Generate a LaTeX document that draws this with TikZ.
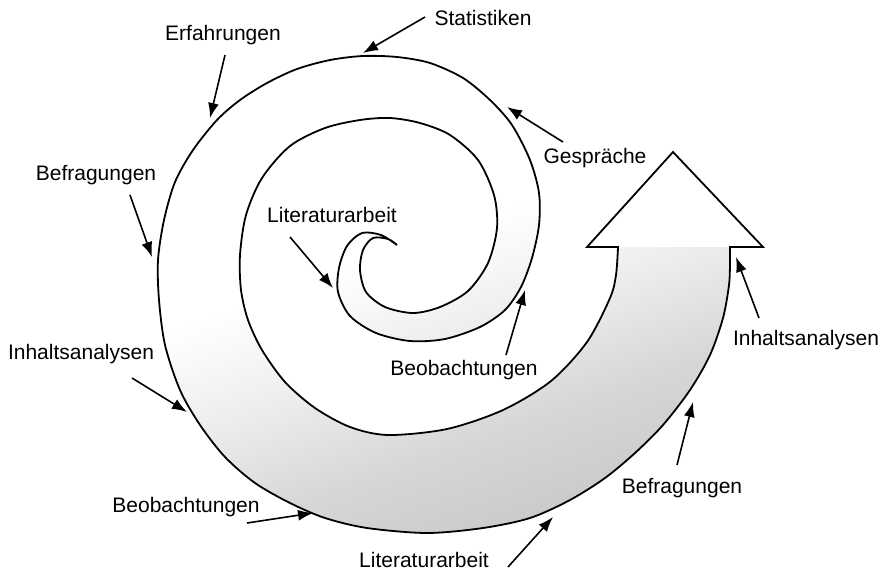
\documentclass[tikz,border=0pt]{standalone}
\usepackage{fontspec}
\setmainfont{Liberation Sans}
\usetikzlibrary{arrows.meta}

% gray tone of the widening band, fading out toward the top
\colorlet{bandDark}{gray!42}
\colorlet{bandMid}{gray!32}
\colorlet{bandLight}{gray!15}
\colorlet{bandFaint}{gray!5}
\pgfdeclareverticalshading{bandfade}{100bp}{%
  color(0bp)=(bandDark); color(25bp)=(bandDark); color(35bp)=(bandMid);
  color(45bp)=(bandLight); color(52bp)=(bandFaint); color(56bp)=(white);
  color(100bp)=(white)}

\begin{document}
\begin{tikzpicture}[x=1pt,y=-1pt,
  lbl/.style={anchor=base, inner sep=0pt, font=\fontsize{21}{25}\selectfont},
  pointer/.style={line width=1.6pt, -{Latex[length=15pt,width=11pt]}},
  outline/.style={line width=1.8pt, line join=miter}]
\useasboundingbox (0,0) rectangle (890,573);

% shaded band of the spiral (between outer and inner line)
\shade[shading=bandfade, shading angle=20]
  plot[smooth] coordinates {(397,245) (381,235) (362,233) (347,246) (339,268) (338,292) (350,316) (376,333) (410,341) (445,339) (480,327) (505,310) (521,287) (532,258) (539,225) (539,193) (530,160) (512,125) (490,100) (463,78) (430,63) (397,57) (363,56) (330,60) (297,69) (267,83) (240,100) (217,120) (193,150) (175,182) (164,220) (158,260) (159,300) (165,345) (180,390) (200,425) (225,457) (255,483) (290,503) (325,518) (367,528) (427,533) (483,528) (530,518) (570,500) (605,478) (635,453) (663,425) (690,390) (710,355) (723,318) (729,285) (730,262) (730,247)}
  -- plot[smooth] coordinates {(618,247) (616,275) (610,298) (587,342) (551,381) (503,410) (447,429) (388,435) (350,427) (315,408) (285,382) (262,350) (248,320) (241,290) (240,255) (246,215) (262,178) (290,146) (325,128) (360,120) (390,118) (420,123) (450,135) (478,160) (494,195) (497,228) (488,263) (468,291) (440,307) (413,313) (385,307) (366,292) (360,270) (363,250) (373,238) (388,239) (397,245)}
  -- cycle;

% outline: outer line, arrow head, inner line back to the centre
\draw[outline]
  plot[smooth] coordinates {(397,245) (381,235) (362,233) (347,246) (339,268) (338,292) (350,316) (376,333) (410,341) (445,339) (480,327) (505,310) (521,287) (532,258) (539,225) (539,193) (530,160) (512,125) (490,100) (463,78) (430,63) (397,57) (363,56) (330,60) (297,69) (267,83) (240,100) (217,120) (193,150) (175,182) (164,220) (158,260) (159,300) (165,345) (180,390) (200,425) (225,457) (255,483) (290,503) (325,518) (367,528) (427,533) (483,528) (530,518) (570,500) (605,478) (635,453) (663,425) (690,390) (710,355) (723,318) (729,285) (730,262) (730,247)}
  -- (763,247) -- (673,152) -- (587,247)
  -- plot[smooth] coordinates {(618,247) (616,275) (610,298) (587,342) (551,381) (503,410) (447,429) (388,435) (350,427) (315,408) (285,382) (262,350) (248,320) (241,290) (240,255) (246,215) (262,178) (290,146) (325,128) (360,120) (390,118) (420,123) (450,135) (478,160) (494,195) (497,228) (488,263) (468,291) (440,307) (413,313) (385,307) (366,292) (360,270) (363,250) (373,238) (388,239) (397,245)};

% labels
\node[lbl] (statistiken) at (483,25) {Statistiken};
\node[lbl] (erfahrungen) at (223,40) {Erfahrungen};
\node[lbl] (befragungenL) at (96,180) {Befragungen};
\node[lbl] (gespraeche) at (595,163) {Gespräche};
\node[lbl] (literaturI) at (332,222) {Literaturarbeit};
\node[lbl] (inhaltL) at (81,359) {Inhaltsanalysen};
\node[lbl] (beobI) at (464,375) {Beobachtungen};
\node[lbl] (inhaltR) at (806,345) {Inhaltsanalysen};
\node[lbl] (befragungenR) at (682,493) {Befragungen};
\node[lbl] (beobB) at (186,512) {Beobachtungen};
\node[lbl] (literaturB) at (424,567) {Literaturarbeit};

% pointer ends
\coordinate (statS) at (425,17);  \coordinate (statT) at (363,53);
\coordinate (erfS) at (225,55);   \coordinate (erfT) at (210,118);
\coordinate (befLS) at (130,195); \coordinate (befLT) at (152,257);
\coordinate (gesS) at (563,142);  \coordinate (gesT) at (507,107);
\coordinate (litIS) at (290,237); \coordinate (litIT) at (333,288);
\coordinate (beoIS) at (506,355); \coordinate (beoIT) at (525,290);
\coordinate (inhLS) at (132,378); \coordinate (inhLT) at (187,412);
\coordinate (inhRS) at (759,318); \coordinate (inhRT) at (736,257);
\coordinate (befRS) at (677,465); \coordinate (befRT) at (693,402);
\coordinate (beoBS) at (247,523); \coordinate (beoBT) at (313,513);
\coordinate (litBS) at (508,567); \coordinate (litBT) at (553,517);

% pointers
\draw[pointer] (statS) -- (statT);
\draw[pointer] (erfS) -- (erfT);
\draw[pointer] (befLS) -- (befLT);
\draw[pointer] (gesS) -- (gesT);
\draw[pointer] (litIS) -- (litIT);
\draw[pointer] (beoIS) -- (beoIT);
\draw[pointer] (inhLS) -- (inhLT);
\draw[pointer] (inhRS) -- (inhRT);
\draw[pointer] (befRS) -- (befRT);
\draw[pointer] (beoBS) -- (beoBT);
\draw[pointer] (litBS) -- (litBT);
\end{tikzpicture}
\end{document}
